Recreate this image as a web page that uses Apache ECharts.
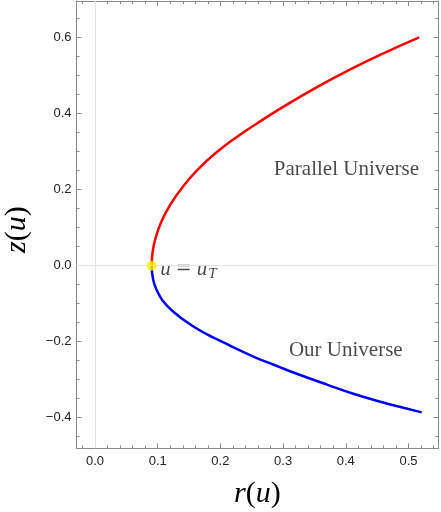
<!DOCTYPE html>
<html>
<head>
<meta charset="utf-8">
<script src="https://cdn.jsdelivr.net/npm/echarts@6/dist/echarts.min.js"></script>
<style>
  html, body { margin: 0; padding: 0; background: #fff; }
  #chart { width: 441px; height: 512px; }
</style>
</head>
<body>
<div id="chart"></div>
<script>
// r(u), z(u), both branches start at the turning point
var parallelR = [0.0904, 0.0918, 0.0965, 0.1065, 0.1206, 0.1397, 0.1634, 0.192, 0.229, 0.257, 0.300, 0.354, 0.404, 0.460, 0.517];
var parallelZ = [0.000, 0.035, 0.072, 0.118, 0.162, 0.207, 0.252, 0.296, 0.342, 0.373, 0.418, 0.470, 0.514, 0.559, 0.601];
var ourR = [0.0904, 0.093, 0.099, 0.108, 0.125, 0.1515, 0.178, 0.205, 0.231, 0.258, 0.284, 0.310, 0.370, 0.412, 0.455, 0.492, 0.521];
var ourZ = [0.000, -0.038, -0.066, -0.092, -0.121, -0.154, -0.180, -0.202, -0.223, -0.243, -0.260, -0.277, -0.313, -0.337, -0.358, -0.374, -0.386];
var turnPoint = [0.0904, 0.0];

// axes
var xMajor = [0, 0.1, 0.2, 0.3, 0.4, 0.5];
var yMajor = [-0.4, -0.2, 0, 0.2, 0.4, 0.6];
var xRange = [-0.0295, 0.5475];
var yRange = [-0.4805, 0.6966];

var xMinor = [];
for (var i = -1; i <= 27; i++) {
  if (i % 5 !== 0) xMinor.push(+(i * 0.02).toFixed(2));
}
var yMinor = [];
for (var j = -9; j <= 13; j++) {
  if (j % 4 !== 0) yMinor.push(+(j * 0.05).toFixed(2));
}

function pairs(a, b) {
  return a.map(function (v, k) { return [v, b[k]]; });
}

// one path: our universe end -> turning point -> parallel universe end
var wholeCurve = pairs(ourR, ourZ).reverse().concat(pairs(parallelR, parallelZ).slice(1));

// red above z = 0, blue below (gradient runs over the path's bounding box)
var zTop = Math.max.apply(null, parallelZ);
var zBottom = Math.min.apply(null, ourZ);
var cut = zTop / (zTop - zBottom);
var branchColor = {
  type: "linear", x: 0, y: 0, x2: 0, y2: 1,
  colorStops: [
    { offset: 0, color: "#ff0000" },
    { offset: cut, color: "#ff0000" },
    { offset: cut, color: "#0000ff" },
    { offset: 1, color: "#0000ff" }
  ]
};

var frameColor = "#8a8a8a";
var serif = "'Liberation Serif', 'DejaVu Serif', serif";

function tickFmt(v) {
  return (Math.abs(v) < 1e-9 ? 0 : v).toFixed(1).replace("-", "\u2212");
}

function makeAxis(dim, pos, ticks, len, isMain) {
  var range = dim === "x" ? xRange : yRange;
  var ax = {
    type: "value",
    position: pos,
    min: range[0],
    max: range[1],
    axisLine: { show: isMain, onZero: false, lineStyle: { color: frameColor, width: 1 } },
    axisTick: { show: true, inside: true, length: len, customValues: ticks, lineStyle: { color: frameColor, width: 1 } },
    axisLabel: { show: false },
    splitLine: { show: false },
    minorTick: { show: false }
  };
  if (isMain && (pos === "bottom" || pos === "left")) {
    ax.axisLabel = {
      show: true,
      customValues: ticks,
      formatter: tickFmt,
      color: "#222",
      fontSize: 13,
      fontFamily: "'Liberation Sans', Arial, sans-serif",
      margin: dim === "x" ? 7 : 5
    };
  }
  return ax;
}

var nameRich = {
  i: { fontFamily: serif, fontStyle: "italic", fontSize: 30, color: "#000" },
  n: { fontFamily: serif, fontSize: 30, color: "#000" }
};

var xBottom = makeAxis("x", "bottom", xMajor, 5, true);
xBottom.name = "{i|r}{n|(}{i|u}{n|)}";
xBottom.nameLocation = "middle";
xBottom.nameGap = 31;
xBottom.nameTextStyle = { rich: nameRich };

var yLeft = makeAxis("y", "left", yMajor, 5, true);
yLeft.name = "{i|z}{n|(}{i|u}{n|)}";
yLeft.nameLocation = "middle";
yLeft.nameGap = 44;
yLeft.nameRotate = 90;
yLeft.nameTextStyle = { rich: nameRich, padding: [0, 10, 0, 0] };

var chart = echarts.init(document.getElementById("chart"));
chart.setOption({
  animation: false,
  backgroundColor: "#fff",
  grid: { left: 76.5, right: 2.7, top: 1, bottom: 63.7, containLabel: false, outerBoundsMode: "none" },
  xAxis: [
    xBottom,
    makeAxis("x", "bottom", xMinor, 3, false),
    makeAxis("x", "top", xMajor, 5, true),
    makeAxis("x", "top", xMinor, 3, false)
  ],
  yAxis: [
    yLeft,
    makeAxis("y", "left", yMinor, 3, false),
    makeAxis("y", "right", yMajor, 5, true),
    makeAxis("y", "right", yMinor, 3, false)
  ],
  series: [
    {
      type: "line",
      name: "r(u), z(u)",
      data: wholeCurve,
      smooth: 0.5,
      showSymbol: false,
      lineStyle: { width: 2.5, color: branchColor },
      markLine: {
        silent: true,
        symbol: "none",
        label: { show: false },
        lineStyle: { color: "#e3e3e3", width: 1, type: "solid" },
        data: [{ xAxis: 0 }, { yAxis: 0 }]
      },
      z: 3
    },
    {
      type: "scatter",
      data: [turnPoint],
      symbolSize: 10,
      itemStyle: { color: "#fff000" },
      z: 5
    },
    {
      type: "scatter",
      symbolSize: 0,
      silent: true,
      z: 4,
      label: {
        show: true,
        position: "inside",
        fontFamily: serif,
        fontSize: 21,
        color: "#1a1a1a"
      },
      data: [
        { value: [0.401, 0.254], label: { formatter: "Parallel Universe" } },
        { value: [0.400, -0.222], label: { formatter: "Our Universe" } },
        {
          value: [0.104, -0.010],
          label: {
            position: "right",
            distance: 0,
            formatter: "{i|u}{n|=}{i|u}{s|T}",
            rich: {
              i: { fontFamily: serif, fontStyle: "italic", fontSize: 21, color: "#1a1a1a" },
              n: { fontFamily: "'DejaVu Serif', serif", fontSize: 19, color: "#1a1a1a", padding: [0, 5, 0, 5] },
              s: { fontFamily: serif, fontStyle: "italic", fontSize: 15, color: "#1a1a1a", padding: [9, 0, 0, 1] }
            }
          }
        }
      ]
    }
  ]
});
</script>
</body>
</html>
